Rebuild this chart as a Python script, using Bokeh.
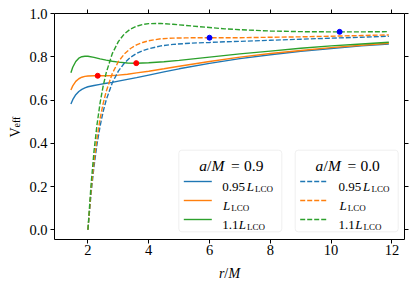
import math
from bokeh.plotting import figure
from bokeh.models import (Label, BoxAnnotation, LinearAxis, FixedTicker,
                          PrintfTickFormatter, CustomJSTickFormatter, Range1d)
from bokeh.embed import file_html
from bokeh.resources import INLINE

# ---------------- data ----------------
r_kerr = [1.44, 1.5, 1.6, 1.7, 1.8, 1.9, 2.0, 2.2, 2.4, 2.6, 2.8, 3.0, 3.3, 3.6,
          4.0, 4.5, 5.0, 6.0, 7.0, 8.0, 9.0, 10.0, 11.0, 11.9]
v_kerr_095 = [0.582, 0.602, 0.625, 0.640, 0.650, 0.657, 0.662, 0.668, 0.673, 0.678,
              0.682, 0.688, 0.696, 0.704, 0.716, 0.731, 0.745, 0.770, 0.792, 0.810,
              0.826, 0.839, 0.851, 0.860]
v_kerr_100 = [0.647, 0.666, 0.687, 0.699, 0.706, 0.710, 0.712, 0.713, 0.713, 0.713,
              0.714, 0.716, 0.720, 0.726, 0.734, 0.745, 0.757, 0.779, 0.799, 0.816,
              0.830, 0.843, 0.854, 0.863]
v_kerr_110 = [0.727, 0.752, 0.779, 0.794, 0.801, 0.803, 0.803, 0.798, 0.791, 0.785,
              0.780, 0.776, 0.772, 0.771, 0.773, 0.778, 0.784, 0.799, 0.814, 0.827,
              0.840, 0.851, 0.860, 0.868]

r_schw = [2.0, 2.1, 2.2, 2.3, 2.4, 2.5, 2.6, 2.8, 3.0, 3.2, 3.4, 3.6, 3.8, 4.0,
          4.4, 4.8, 5.2, 5.6, 6.0, 6.5, 7.0, 8.0, 9.0, 10.0, 11.0, 11.9]
v_schw_095 = [0.000, 0.165, 0.294, 0.397, 0.480, 0.547, 0.600, 0.680, 0.734, 0.772,
              0.798, 0.816, 0.829, 0.838, 0.851, 0.858, 0.862, 0.865, 0.867, 0.870,
              0.872, 0.877, 0.882, 0.887, 0.891, 0.896]
v_schw_100 = [0.000, 0.177, 0.316, 0.426, 0.514, 0.584, 0.640, 0.723, 0.778, 0.814,
              0.839, 0.856, 0.867, 0.875, 0.884, 0.887, 0.888, 0.889, 0.889, 0.889,
              0.889, 0.891, 0.893, 0.896, 0.899, 0.902]
v_schw_110 = [0.000, 0.204, 0.364, 0.488, 0.587, 0.665, 0.726, 0.815, 0.871, 0.907,
              0.929, 0.942, 0.950, 0.954, 0.955, 0.951, 0.946, 0.941, 0.936, 0.930,
              0.926, 0.920, 0.917, 0.916, 0.916, 0.917]

r_red_dots = [2.321, 3.59]
v_red_dots = [0.7128, 0.7713]
r_blue_dots = [6.0, 10.28]
v_blue_dots = [0.8889, 0.9161]

x_ticks = [2, 4, 6, 8, 10, 12]
y_ticks = [0.0, 0.2, 0.4, 0.6, 0.8, 1.0]
spin_labels = ["0.9", "0.0"]
row_coefs = ["0.95", "", "1.1"]

COLORS = ["#1f77b4", "#ff7f0e", "#2ca02c"]
FONT = "Liberation Serif"
TICK_FONT = "Times"

# data limits of the plotting box
XR = (0.90, 12.415)
YR = (-0.045, 1.001)

# plotting box position on the canvas (pixels) -> used to lay out decorations
W, H = 416, 289
FX0, FY0, FW, FH = 54.0, 13.0, 350.0, 226.0
XPP = (XR[1] - XR[0]) / FW
YPP = (YR[1] - YR[0]) / FH


def xd(px):
    return XR[0] + (px - FX0) * XPP


def yd(py):
    return YR[1] - (py - FY0) * YPP


p = figure(width=W, height=H, x_range=Range1d(xd(0), xd(W)),
           y_range=Range1d(yd(H), yd(0)),
           output_backend="svg", toolbar_location=None,
           x_axis_location=None, y_axis_location=None,
           min_border_left=0, min_border_right=0, min_border_top=0,
           min_border_bottom=0)
p.background_fill_color = "white"
p.border_fill_color = "white"
p.xgrid.visible = False
p.ygrid.visible = False
p.outline_line_color = None


def make_axis(ticks, fmt, loc, bounds, show_labels):
    ax = LinearAxis(ticker=FixedTicker(ticks=ticks), fixed_location=loc,
                    bounds=bounds)
    if show_labels:
        ax.formatter = PrintfTickFormatter(format=fmt)
        ax.major_label_text_font = TICK_FONT
        ax.major_label_text_font_size = "14.5px"
        ax.major_label_text_font_style = "normal"
        ax.major_label_text_color = "black"
    else:
        ax.formatter = CustomJSTickFormatter(code="return ''")
        ax.major_label_text_font_size = "0px"
    ax.minor_tick_line_color = None
    ax.major_tick_in = 0
    ax.major_tick_out = 4
    ax.major_tick_line_color = "black"
    ax.axis_line_color = "black"
    ax.axis_line_width = 1
    return ax


ax_b = make_axis(x_ticks, "%d", YR[0], XR, True)
ax_b.major_label_standoff = 1
p.add_layout(ax_b, "below")
ax_l = make_axis(y_ticks, "%.1f", XR[0], YR, True)
ax_l.major_label_standoff = 3
p.add_layout(ax_l, "left")
p.add_layout(make_axis(x_ticks, "%d", YR[1], XR, False), "above")
p.add_layout(make_axis(y_ticks, "%.1f", XR[1], YR, False), "right")

# curves
for v, c in zip((v_kerr_095, v_kerr_100, v_kerr_110), COLORS):
    p.line(r_kerr, v, line_color=c, line_width=1.4)
for v, c in zip((v_schw_095, v_schw_100, v_schw_110), COLORS):
    p.line(r_schw, v, line_color=c, line_width=1.4, line_dash="5 2")

p.scatter(r_red_dots, v_red_dots, size=5, fill_color="#ff0000", line_color="#ff0000")
p.scatter(r_blue_dots, v_blue_dots, size=5, fill_color="#0000ff", line_color="#0000ff")


def add_text(px, py, text, size, style="normal", angle=0.0):
    p.add_layout(Label(x=xd(px), y=yd(py), text=text, text_font=FONT,
                       text_font_size=size, text_font_style=style,
                       text_color="black", text_align="left",
                       text_baseline="alphabetic", angle=angle))


# axis labels
add_text(14.5, 137.0, "V", "14px", angle=math.pi / 2)
add_text(16.0, 127.0, "eff", "10px", angle=math.pi / 2)
add_text(218.5, 272.7, "r", "14px", "italic")
add_text(223.8, 272.7, "/", "14px")
add_text(228.0, 272.7, "M", "14px", "italic")

# legends
row_line_y = [181.0, 200.0, 219.0]
for k, spin in enumerate(spin_labels):
    dx = 116.4 * k
    p.add_layout(BoxAnnotation(left=xd(178.3 + dx), right=xd(281.3 + dx),
                               top=yd(149.7), bottom=yd(231.3),
                               fill_color="white", fill_alpha=0.8,
                               line_color="#cccccc", line_width=1,
                               border_radius=3))
    # title
    tb = 165.3
    add_text(198.7 + dx, tb, "a", "15.5px", "italic")
    add_text(206.5 + dx, tb, "/", "15.5px")
    add_text(211.0 + dx, tb, "M", "15.5px", "italic")
    add_text(230.5 + dx, tb, "=", "15.5px")
    add_text(243.5 + dx, tb, spin, "15.5px")
    # swatches
    p.segment(x0=[xd(183.3 + dx)] * 3, x1=[xd(211.3 + dx)] * 3,
              y0=[yd(y) for y in row_line_y], y1=[yd(y) for y in row_line_y],
              line_color=COLORS, line_width=1.4,
              line_dash=("solid" if k == 0 else "5 2"), level="overlay")
    # entries
    l_pos = [246.2, 222.5, 238.3]
    for i, coef in enumerate(row_coefs):
        base = row_line_y[i] + 5.3
        if coef:
            add_text(221.7 + dx, base, coef, "13px")
        add_text(l_pos[i] + dx, base, "L", "13px", "italic")
        add_text(l_pos[i] + 8.3 + dx, base + 2.5, "LCO", "9px")

open("out.html", "w").write(file_html(p, INLINE))
